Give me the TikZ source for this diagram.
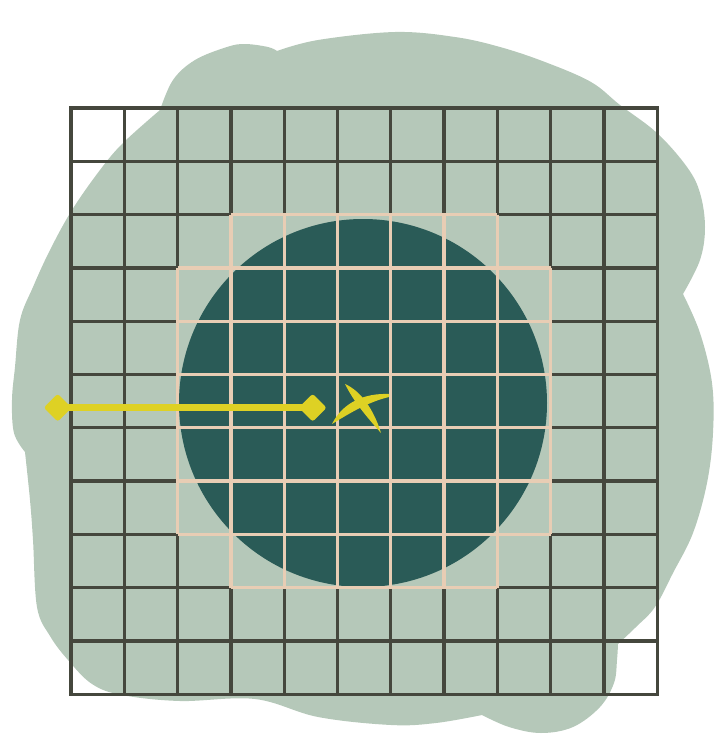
\documentclass[tikz,border=0pt]{standalone}
\usetikzlibrary{shapes.geometric}
\definecolor{sage}{HTML}{B5C8B9}
\definecolor{circteal}{HTML}{2A5B57}
\definecolor{gridd}{HTML}{45473D}
\definecolor{beigel}{HTML}{E8CDB4}
\definecolor{yel}{HTML}{DED124}
\tikzset{
  darkline/.style={draw=gridd, line width=3.3pt, line cap=rect},
  beigeline/.style={draw=beigel, line width=3.3pt},
  pin/.style={diamond, fill=yel, minimum width=28pt, minimum height=28pt, inner sep=0pt, rounded corners=2.5pt},
  yelline/.style={draw=yel, line width=7pt},
}
\begin{document}
\begin{tikzpicture}[x=1pt,y=-1pt]
\useasboundingbox (0,0) rectangle (713,734);
% background blob
\fill[sage]
  plot[smooth,tension=0.6] coordinates {(277,51) (318,40) (395,32) (455,37) (500,47) (545,62) (591,82) (620,105) (657,133) (687,167) (700,193) (705,227) (700,260) (683,294)}
  -- plot[smooth,tension=0.6] coordinates {(683,294) (700,333) (712,383) (713,433) (707,483) (693,533) (673,573) (655,607) (636,627) (618,644)}
  -- plot[smooth,tension=0.6] coordinates {(618,644) (617,660) (614,683) (600,707) (573,727) (541,733) (509,727) (482,715)}
  -- plot[smooth,tension=0.6] coordinates {(482,715) (436,723) (391,725) (318,717) (255,699) (180,701) (122,695) (92,684) (68,660) (50,636) (37,607) (33,540) (30,500) (25,452)}
  -- plot[smooth,tension=0.6] coordinates {(25,452) (14,433) (12,400) (15,367) (20,320) (33,287) (50,250) (72,210) (100,170) (123,143) (160,110)}
  -- plot[smooth,tension=0.6] coordinates {(160,110) (173,80) (195,60) (227,47) (245,44) (268,47) (277,51)}
  -- cycle;
% circle
\fill[circteal] (363,403) circle[radius=184];
% dark grid
\foreach \i in {0,...,11} {
  \draw[darkline] ({71+53.3*\i},108) -- ({71+53.3*\i},694.3);
  \draw[darkline] (71,{108+53.3*\i}) -- (657.3,{108+53.3*\i});
}
% beige grid over the central region
\draw[beigeline] (230.9,214.6) -- (497.4,214.6);
\draw[beigeline] (230.9,587.7) -- (497.4,587.7);
\foreach \j in {3,...,8} {
  \draw[beigeline] (177.6,{108+53.3*\j}) -- (550.7,{108+53.3*\j});
}
\draw[beigeline] (177.6,267.9) -- (177.6,534.4);
\draw[beigeline] (550.7,267.9) -- (550.7,534.4);
\foreach \i in {3,...,8} {
  \draw[beigeline] ({71+53.3*\i},214.6) -- ({71+53.3*\i},587.7);
}
% yellow pointer
\node[pin] (dl) at (57.7,407.7) {};
\node[pin] (dr) at (312.7,407.7) {};
\draw[yelline] (dl.center) -- (dr.center);
% yellow cross mark
\fill[yel] (332,424) .. controls (343,402) and (365,393) .. (389,394)
  -- (389,397) .. controls (368,402) and (350,413) .. (332,424) -- cycle;
\fill[yel] (345,384) .. controls (361,391) and (374,410) .. (381,433)
  .. controls (366,416) and (354,402) .. (345,384) -- cycle;
\end{tikzpicture}
\end{document}
